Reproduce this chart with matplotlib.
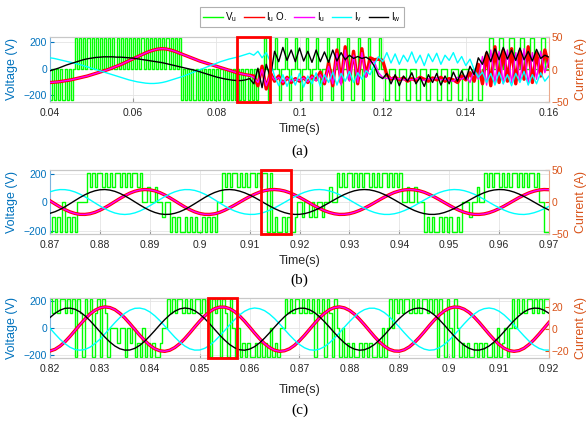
import numpy as np
import matplotlib
matplotlib.use("Agg")
import matplotlib.pyplot as plt
from matplotlib.lines import Line2D
from matplotlib.patches import Rectangle

plt.rcParams["font.family"] = ["Liberation Sans", "DejaVu Sans"]
plt.rcParams["mathtext.default"] = "regular"

# ------------------------------------------------------------------ data
legend_labels = ["V$_u$", "I$_u$ O.", "I$_u$", "I$_v$", "I$_w$"]

# ---- panel (a): currents sampled every 1 ms from 0.040 s
a_t0, a_dt = 0.040, 0.001
a_iw = [-2, 0, 2, 4.5, 7, 9, 11, 13, 15, 16.5, 17.5, 18.5, 19, 19.5, 19.5, 19.5, 19, 19, 18.5, 18,
        17.5, 16.5, 15.5, 14.5, 13.5, 12.5, 11.5, 10.5, 9, 7.5, 6, 4.5, 3, 1.5, 0, -1.5, -3.5, -5.5,
        -7.5, -9.5, -11.5, -13, -14.5, -15.5, -16.5, -17, -17, -16, -14,
        -22, 2, -28, 8, -12, 28, 12, 34, 14, 30, 12, 33, 13, 28, 11, 30, 12, 27, 11, 30, 13, 26, 15,
        22, 17, 20, 17, 19, 15, 5, -10, -14, -6, -22, -8, -25, -10, -18, -5, -22, -12, -26, -8, -20,
        -6, -24, -10, -22, -4, -18, -2, -15, 5, -8, 18, 8, 28, 12, 32, 15, 34, 16, 30, 14, 33, 15, 28,
        13, 31, 17, 22, 19]
a_iv = [18, 17, 15.5, 14, 12.5, 11, 9.5, 8, 6, 4, 2, 0, -2, -4, -6, -8, -10, -12, -14, -16, -17.5,
        -19, -20, -21, -21.5, -21.5, -21, -20, -18.5, -16.5, -14.5, -12.5, -10.5, -8, -5.5, -3, -0.5,
        2, 4.5, 7, 9.5, 12, 14, 16, 17.5, 19, 21, 23, 25,
        22, 28, 18, 26, 12, -10, -25, -8, -26, -10, -24, -6, -27, -10, -22, -5, -26, -8, -20, -4, -24,
        -6, -18, -3, -20, -5, -15, -2, -8, 8, 20, 12, 26, 10, 24, 8, 22, 12, 27, 10, 22, 6, 24, 12, 25,
        8, 22, 14, 26, 10, 20, 6, 16, 0, -12, -4, -20, -6, -24, -4, -22, -8, -25, -6, -20, -3, -24,
        -8, -22, -5, -18, -10]
a_iuo = [-20, -19.5, -19, -18, -17, -16, -14.5, -13, -11.5, -10, -8, -6, -4, -2, 0, 2.5, 5, 7.5,
         10.5, 13.5, 16.5, 19.5, 22.5, 25.5, 28, 30, 31.5, 32, 31.5, 30, 28, 25.5, 23, 20.5, 18, 15.5,
         13, 11, 9, 7, 5, 3, 1, -1, -3, -5, -6.5, -8, -9,
         -10, -25, 5, -30, -5, -18, -10, -22, -12, -20, -14, -18, -12, -20, -10, -16, -4, -22, 10,
         -25, 30, -20, 35, -15, 28, -22, 32, -10, 18, 15, 16, 14, -8, -15, -12, -16, -13, -18, -14,
         -17, -12, -15, -18, -13, -16, -12, -18, -14, -16, -20, -10, -16, -5, -18, 8, -22, 25, -25,
         35, -20, 30, -18, 32, -22, 28, -15, 35, -20, 25, -10, 30, 5]
a_iu = [-20, -19.5, -19, -18, -17, -16, -14.5, -13, -11.5, -10, -8, -6, -4, -2, 0, 2.5, 5, 7.5,
        10.5, 13.5, 16.5, 19.5, 22.5, 25.5, 28, 30, 31.5, 32, 31.5, 30, 28, 25.5, 23, 20.5, 18, 15.5,
        13, 11, 9, 7, 5, 3, 1, -1, -3, -5, -6.5, -8, -9,
        -12, -20, 0, -25, -8, -16, -12, -20, -13, -18, -15, -17, -13, -19, -11, -17, -8, -20, 5, -22,
        25, -24, 30, -18, 22, -20, 26, -12, 10, 12, -5, -12, -14, -13, -15, -14, -16, -15, -16, -14,
        -15, -17, -14, -15, -13, -16, -15, -17, -18, -12, -15, -10, -20, 0, -15, 20, -24, 30, -20,
        28, -22, 30, -20, 26, -18, 32, -22, 26, -15, 28, -5, 15]
# phase voltage, level codes (-2..2) every 0.5 ms from 0.040 s
a_vdt = 0.0005
a_vlevels = [-235, -115, 0, 115, 235]
a_vu = [-2, 0, -2, 0, -2, 0, -2, 0, -2, 0, -2,
        0, 2, 0, 2, 0, 2, 0, 2, 0, 2, 0, 2, 0, 2, 0, 2, 0, 2, 0, 2, 0, 2, 0, 2, 0, 2, 0, 2, 0, 2,
        0, 2, 0, 2, 0, 2, 0, 2, 0, 2, 0, 2, 0, 2, 0, 2, 0, 2, 0, 2, 0, 2,
        -2, 0, -2, 0, -2, 0, -2, 0, -2, 0, -2, 0, -2, 0, -2, 0, -2, 0, -2, 0, -2, 0, -2, 0, -2, 0,
        -2, 0, -2, 0, -2, 0, -2, 0, -2, 0, -2, 0,
        0,
        0, 2, 0, -2, 0, 0, 2, 0, -2, 0, 0, 2, 0, -2, 0, 0, 2, 0, -2, 0, 0, 2, 0, -2, 0, 0, 2, 0, -2,
        0, 0, 2, 0, -2, 0, 0, 2, 0, -2, 0, 0, 2, 0, -2, 0, 0, 2, 0, -2, 0, 0, 2, 0, -2, 0, 0, 2, 0,
        0, -2, -2, 0, 0, 0, -2, -2, 0, 0, 0, -2, -2, 0, 0, 0, -2, -2, 0, 0, 0, -2, -2, 0, 0,
        0, -2, -2, 0, 0, 0, -2, -2, 0, 0, 0, -2, -2, 0, 0, 0, -2, -2, 0, 0, 0, -2, -2, 0, 0,
        0, 2, 2, 0, 0, 0, 2, 2, 0, 0, 0, 2, 2, 0, 0, 0, 2, 2, 0, 0, 0, 2, 2, 0, 0, 0, 2, 2, 0, 0]

# ---- panel (b): currents every 1 ms from 0.870 s
b_t0, b_dt = 0.870, 0.001
b_iw = [-17.7, -15.2, -11.7, -7.4, -2.7, 2.2, 7.0, 11.3, 14.9, 17.5, 19.1, 19.5, 18.6, 16.6, 13.5,
        9.6, 5.1, 0.2, -4.6, -9.2, -13.2, -16.3, -18.5, -19.4, -19.2, -17.7, -15.2, -11.7, -7.4,
        -2.7, 2.2, 7.0, 11.3, 14.9, 17.5, 19.1, 19.5, 18.8, 17.0, 14.4, 11.0, 7.1, 2.7, -1.8, -6.2,
        -10.3, -13.8, -16.6, -18.5, -19.4, -19.3, -18.2, -16.1, -13.1, -9.5, -5.3, -0.9, 3.6, 7.9,
        11.8, 15.0, 17.5, 19.0, 19.5, 19.0, 17.4, 15.0, 11.7, 7.8, 3.5, -1.0, -5.4, -9.5, -13.2,
        -16.1, -18.2, -19.3, -19.4, -18.5, -16.5, -13.7, -10.2, -6.1, -1.7, 2.8, 7.1, 11.1, 14.5,
        17.1, 18.8, 19.5, 19.2, 17.8, 15.5, 12.4, 8.6, 4.4, -0.1, -4.5, -8.8, -12.5]
b_iu = [1.9, -3.0, -7.7, -11.9, -15.4, -17.9, -19.3, -19.4, -18.4, -16.2, -12.9, -8.9, -4.3, 0.6,
        5.4, 9.9, 13.8, 16.8, 18.7, 19.5, 19.0, 17.4, 14.7, 11.0, 6.6, 1.9, -3.0, -7.7, -11.9, -15.4,
        -17.9, -19.3, -19.4, -18.4, -16.2, -12.9, -9.0, -4.8, -0.3, 4.2, 8.4, 12.2, 15.4, 17.7, 19.1,
        19.5, 18.8, 17.2, 14.6, 11.2, 7.3, 3.0, -1.5, -5.9, -10.0, -13.6, -16.4, -18.4, -19.4, -19.3,
        -18.3, -16.2, -13.3, -9.7, -5.6, -1.2, 3.3, 7.6, 11.5, 14.9, 17.3, 18.9, 19.5, 19.0, 17.6,
        15.2, 11.9, 8.1, 3.8, -0.7, -5.1, -9.3, -13.0, -16.0, -18.1, -19.3, -19.4, -18.6, -16.7,
        -13.9, -10.4, -6.4, -2.0, 2.5, 6.9, 10.8, 14.3, 16.9, 18.7, 19.5, 19.2]
b_iuo = b_iu  # observer estimate overlaps the measured current
b_iv = [15.9, 18.2, 19.4, 19.3, 18.1, 15.7, 12.3, 8.2, 3.5, -1.4, -6.2, -10.6, -14.3, -17.2, -18.9,
        -19.5, -18.8, -17.0, -14.1, -10.3, -5.9, -1.1, 3.8, 8.5, 12.6, 15.9, 18.2, 19.4, 19.3, 18.1,
        15.7, 12.3, 8.2, 3.5, -1.4, -6.2, -10.5, -14.0, -16.7, -18.6, -19.4, -19.3, -18.1, -15.9,
        -12.9, -9.2, -5.0, -0.6, 3.9, 8.2, 12.0, 15.2, 17.6, 19.1, 19.5, 18.9, 17.3, 14.8, 11.5, 7.6,
        3.3, -1.2, -5.7, -9.8, -13.4, -16.3, -18.3, -19.4, -19.4, -18.4, -16.4, -13.5, -10.0, -5.9,
        -1.4, 3.1, 7.4, 11.3, 14.7, 17.2, 18.9, 19.5, 19.1, 17.7, 15.3, 12.2, 8.4, 4.1, -0.4, -4.9,
        -9.0, -12.7, -15.8, -18.0, -19.2, -19.5, -18.6, -16.8, -14.1, -10.7, -6.7]
b_vdt = 0.0005
b_vlevels = [-207, -105, 0, 105, 207]
b_vu = [-2, -1, -2, -1, -2, 0, -2, -1, -2, -1, -2, 0,
        0, 0, 0,
        2, 1, 2, 1, 2, 2, 1, 2, 1, 2, 1, 2, 2, 1, 2, 1, 2, 1, 2, 2, 1, 2, 0,
        0, 1, 0, 0, 1, 0, 0, -1, 0, 0,
        -2, -1, -2, -1, -2, -2, -1, -2, -1, -2, -1, -2, -2, -1, -2, -1, -2, -1, -2, 0, 0,
        2, 1, 2, 1, 2, 2, 1, 2, 1, 2, 1, 2, 2, 1, 2, 1, 2,
        2, -2, 2,
        -2, -1, -2, -2, -1, -2, -1, -2, -2, -1, 0,
        0, -1, 0, 0, -1, 0, -1, 0, 0, -1, 0, 0, 1, 0, 0,
        2, 1, 2, 1, 2, 2, 1, 2, 1, 2, 1, 2, 2, 1, 2, 1, 2, 1, 2, 2, 1, 2, 1, 2, 1, 2, 0,
        0, 1, 0, 0, 1, 0, 0, 0,
        -2, -1, -2, -1, -2, -2, -1, -2, -1, -2, -1, -2, -2, -1, -2, 0, 0,
        0, -1, 0, 0, 1, 0, 0,
        2, 1, 2, 1, 2, 2, 1, 2, 1, 2, 1, 2, 2, 1, 2, 1, 2, 1, 2, 2, 1, 2, 0,
        0, -2, -2]

# ---- panel (c): currents every 1 ms from 0.820 s
c_t0, c_dt = 0.820, 0.001
c_iw = [10.4, 14.2, 17.0, 18.7, 18.9, 17.9, 15.5, 12.0, 7.7, 2.8, -2.3, -7.2, -11.6, -15.2, -17.7,
        -18.9, -18.8, -17.3, -14.6, -10.8, -6.2, -1.3, 3.8, 8.6, 12.8, 16.1, 18.2, 19.0, 18.4, 16.6,
        13.5, 9.5, 4.8, -0.3, -5.3, -9.9, -13.9, -16.8, -18.6, -19.0, -18.0, -15.8, -12.4, -8.1,
        -3.3, 1.8, 6.7, 11.2, 14.9, 17.5, 18.8, 18.8, 17.5, 14.9, 11.2, 6.7, 1.8, -3.3, -8.1, -12.4,
        -15.8, -18.0, -19.0, -18.6, -16.8, -13.9, -9.9, -5.3, -0.3, 4.8, 9.5, 13.5, 16.6, 18.4, 19.0,
        18.2, 16.1, 12.8, 8.6, 3.8, -1.3, -6.2, -10.8, -14.6, -17.3, -18.8, -18.9, -17.7, -15.2,
        -11.6, -7.2, -2.3, 2.8, 7.7, 12.0, 15.5, 17.9, 18.9, 18.7, 17.0, 14.2]
c_iu = [-19.7, -18.2, -15.3, -11.4, -6.6, -1.3, 4.0, 9.0, 13.5, 16.9, 19.1, 20.0, 19.4, 17.5, 14.2,
        10.0, 5.0, -0.3, -5.6, -10.4, -14.6, -17.7, -19.5, -20.0, -19.0, -16.6, -13.1, -8.6, -3.5,
        1.9, 7.1, 11.8, 15.7, 18.4, 19.8, 19.8, 18.4, 15.7, 11.8, 7.1, 1.9, -3.5, -8.6, -13.1, -16.6,
        -19.0, -20.0, -19.5, -17.7, -14.6, -10.4, -5.6, -0.3, 5.0, 10.0, 14.2, 17.5, 19.4, 20.0,
        19.1, 16.9, 13.5, 9.0, 4.0, -1.3, -6.6, -11.4, -15.3, -18.2, -19.7, -19.9, -18.6, -16.0,
        -12.2, -7.6, -2.4, 3.0, 8.1, 12.6, 16.3, 18.8, 19.9, 19.6, 17.9, 15.0, 10.9, 6.1, 0.8, -4.5,
        -9.5, -13.8, -17.2, -19.3, -20.0, -19.3, -17.2, -13.8, -9.5, -4.5, 0.8, 6.1]
c_iuo = c_iu  # observer estimate overlaps the measured current
c_iv = [0.8, -4.3, -9.1, -13.1, -16.3, -18.3, -19.0, -18.3, -16.3, -13.1, -9.1, -4.3, 0.8, 5.8,
        10.4, 14.2, 17.0, 18.7, 18.9, 17.9, 15.5, 12.0, 7.7, 2.8, -2.3, -7.2, -11.6, -15.2, -17.7,
        -18.9, -18.8, -17.3, -14.6, -10.8, -6.2, -1.3, 3.8, 8.6, 12.8, 16.1, 18.2, 19.0, 18.4, 16.6,
        13.5, 9.5, 4.8, -0.3, -5.3, -9.9, -13.9, -16.8, -18.6, -19.0, -18.0, -15.8, -12.4, -8.1,
        -3.3, 1.8, 6.7, 11.2, 14.9, 17.5, 18.8, 18.8, 17.5, 14.9, 11.2, 6.7, 1.8, -3.3, -8.1, -12.4,
        -15.8, -18.0, -19.0, -18.6, -16.8, -13.9, -9.9, -5.3, -0.3, 4.8, 9.5, 13.5, 16.6, 18.4, 19.0,
        18.2, 16.1, 12.8, 8.6, 3.8, -1.3, -6.2, -10.8, -14.6, -17.3, -18.8, -18.9]
c_vdt = 0.0005
c_vlevels = [-215, -110, 0, 110, 215]
c_vu = [2, 1, 2, 1, 2, 2, 1, 2, 1, 2, -2, 2, 1, -2, 2, 1, 2, -2, 1, 2, -2, 2, 1, -2, 0,
        0, 0, -1, 0, 0, -2, 0, -1, 0, -2, -1, -2, 0, -2, -1, -2, -1, -2, -2, -1, 0,
        0, 2, 1, 2, 1, 2, 2, 1, 2, 1, 2, 1, 2, 2, 1, 2, 1, 2, -2, 2, 1, 2, -2, 2, 1, -2, 2, 0, -2, 0,
        -2, -1, -2, -1, -2, -2, -1, -2, -1, -2, -1, -2, 0, -2, -1, -2, 0, 0,
        2, 1, 2, 1, 2, 2, 1, 2, 1, 2, 1, 2, -2, 2, 1, 2, -2, 2, 1, -2, 2, 0, -2, 0,
        -2, -1, -2, -1, -2, -2, -1, -2, -1, -2, -1, -2, -2, -1, -2, 0, -2, 0, 2, 0,
        2, 1, 2, 1, 2, 2, 1, 2, 1, 2, 1, 2, 2, 1, 2, 1, 2, -2, 2, 1, -2, 2, 0, -2, 2, 0,
        -2, -1, -2, -1, -2, -2, -1, -2, -1, -2, -1, -2, -2, -1, -2, 0, -2, -1, 0, -2, 0, 2, 0,
        2, 1, 2, 1, 2, 2, 1, 2, 1, 2, 1, 2, 2]

# highlighted windows (s)
a_box = (0.085, 0.093)
b_box = (0.9122, 0.9183)
c_box = (0.8517, 0.8575)

# ------------------------------------------------------------------ style
BLUE = "#0072BD"
ORANGE = "#D95319"
C_V, C_IUO, C_IU, C_IV, C_IW = "#00ff00", "#ff0000", "#ff00ff", "#00ffff", "#000000"
TXT = "#262626"

fig = plt.figure(figsize=(5.86, 4.21), dpi=100)


def panel(rect, t0, dt, iuo, iu, iv, iw, vdt, vu, vlevels, vlim, ilim, xlim, xticks, xlabels,
          iticks, box):
    ax = fig.add_axes(rect)
    tv = t0 + vdt * np.arange(len(vu) + 1)
    v = np.array([vlevels[c + 2] for c in vu] + [vlevels[vu[-1] + 2]])
    ax.step(tv, v, where="post", color=C_V, lw=1.0, zorder=2)
    ax.set_xlim(xlim)
    ax.set_ylim(vlim)
    ax.set_yticks([-200, 0, 200])
    ax.set_xticks(xticks)
    ax.set_xticklabels(xlabels)
    ax.grid(True, color="#e4e4e4", lw=0.6)
    ax.set_axisbelow(True)
    ax2 = ax.twinx()
    for vals, col, lw in ((iuo, C_IUO, 2.4), (iu, C_IU, 1.0), (iv, C_IV, 1.0), (iw, C_IW, 1.0)):
        t = t0 + dt * np.arange(len(vals))
        ax2.plot(t, vals, color=col, lw=lw)
    ax2.set_ylim(ilim)
    ax2.set_yticks(iticks)
    ax2.set_xlim(xlim)
    ax2.add_patch(Rectangle((box[0], 0), box[1] - box[0], 1, transform=ax2.get_xaxis_transform(),
                            fill=False, ec="#ff0000", lw=2.0, zorder=10, clip_on=False))
    for a in (ax, ax2):
        a.spines["top"].set_color("#c8c8c8")
        a.spines["bottom"].set_color("#c8c8c8")
    ax.spines["left"].set_color("#7fb3dd")
    ax.spines["right"].set_visible(False)
    ax2.spines["left"].set_visible(False)
    ax2.spines["right"].set_color("#eba98c")
    ax.tick_params(axis="x", direction="in", length=3, color="#999999", labelsize=7.5,
                   labelcolor=TXT, pad=4)
    ax.tick_params(axis="y", direction="in", length=3, colors=BLUE, labelsize=7.5, pad=2)
    ax2.tick_params(axis="y", direction="in", length=3, colors=ORANGE, labelsize=7.5, pad=2)
    ax.set_ylabel("Voltage (V)", color=BLUE, fontsize=9)
    ax.yaxis.set_label_coords(-0.064, 0.5)
    ax2.set_ylabel("Current (A)", color=ORANGE, fontsize=9)
    ax2.yaxis.set_label_coords(1.052, 0.5)
    return ax, ax2


W = 499 / 586
X0 = 50 / 586
panel([X0, 1 - 102 / 421, W, 65 / 421], a_t0, a_dt, a_iuo, a_iu, a_iv, a_iw, a_vdt, a_vu,
      a_vlevels, (-250, 240), (-50, 50), (0.04, 0.16),
      [0.04, 0.06, 0.08, 0.10, 0.12, 0.14, 0.16],
      ["0.04", "0.06", "0.08", "0.1", "0.12", "0.14", "0.16"], [-50, 0, 50], a_box)
panel([X0, 1 - 234 / 421, W, 64 / 421], b_t0, b_dt, b_iuo, b_iu, b_iv, b_iw, b_vdt, b_vu,
      b_vlevels, (-220, 225), (-50, 50), (0.87, 0.97),
      [0.87, 0.88, 0.89, 0.90, 0.91, 0.92, 0.93, 0.94, 0.95, 0.96, 0.97],
      ["0.87", "0.88", "0.89", "0.9", "0.91", "0.92", "0.93", "0.94", "0.95", "0.96", "0.97"],
      [-50, 0, 50], b_box)
panel([X0, 1 - 358 / 421, W, 60 / 421], c_t0, c_dt, c_iuo, c_iu, c_iv, c_iw, c_vdt, c_vu,
      c_vlevels, (-222, 222), (-26, 28), (0.82, 0.92),
      [0.82, 0.83, 0.84, 0.85, 0.86, 0.87, 0.88, 0.89, 0.90, 0.91, 0.92],
      ["0.82", "0.83", "0.84", "0.85", "0.86", "0.87", "0.88", "0.89", "0.9", "0.91", "0.92"],
      [-20, 0, 20], c_box)

xc = (50 + 549) / 2 / 586
for y, s in ((129, "Time(s)"), (261, "Time(s)"), (390, "Time(s)")):
    fig.text(xc, 1 - y / 421, s, ha="center", va="center", fontsize=9, color=TXT)
for y, s in ((151, "(a)"), (280, "(b)"), (410, "(c)")):
    fig.text(xc, 1 - y / 421, s, ha="center", va="center", fontsize=11,
             family=["Liberation Serif", "DejaVu Serif"], color="#000000")

handles = [Line2D([], [], color=c, lw=1.0) for c in (C_V, C_IUO, C_IU, C_IV, C_IW)]
leg = fig.legend(handles, legend_labels, loc="center", bbox_to_anchor=(302 / 586, 1 - 17 / 421),
                 ncol=5, fontsize=7, frameon=True, fancybox=False, edgecolor="#b0b0b0",
                 handlelength=2.0, handletextpad=0.3, columnspacing=0.7, borderpad=0.35,
                 framealpha=1)
leg.get_frame().set_linewidth(0.8)

fig.savefig("out.png", dpi=100)
